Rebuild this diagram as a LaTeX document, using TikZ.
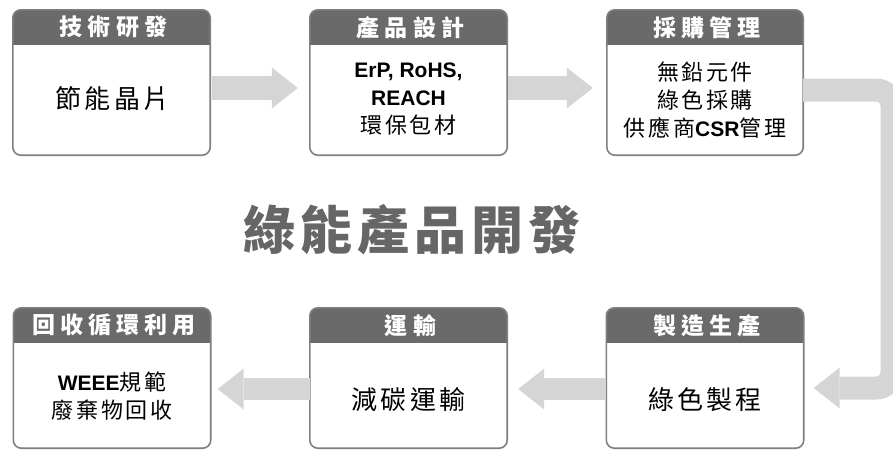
\documentclass[tikz,border=0pt]{standalone}
\usepackage{fontspec}
\setmainfont{Liberation Sans}
\newfontfamily\cjk{Noto Sans CJK TC}
\newfontfamily\cjkhead[LetterSpace=22]{Noto Sans CJK TC}
\newfontfamily\cjkbig[LetterSpace=12]{Noto Sans CJK TC}
\newfontfamily\cjknote[LetterSpace=12]{Noto Sans CJK TC}
\newfontfamily\cjktheme[LetterSpace=10]{Noto Sans CJK TC}
\usetikzlibrary{arrows.meta,positioning}
\definecolor{hdrgray}{HTML}{6A6A6A}
\definecolor{framegray}{HTML}{7F7F7F}
\definecolor{arrowgray}{HTML}{D5D5D5}
\definecolor{themegray}{HTML}{666666}
\newcommand{\lat}[1]{{\normalfont\bfseries\fontsize{21}{28}\selectfont #1}}
% grey head band and frame of one card
\newcommand{\cardframe}[1]{%
  \begin{scope}
    \clip[rounded corners=8pt] (#1.north west) rectangle (#1.south east);
    \fill[hdrgray] (#1.north west) rectangle ([yshift=-35pt]#1.north east);
  \end{scope}
  \draw[framegray, line width=1.6pt, rounded corners=8pt] (#1.north west) rectangle (#1.south east);}
\tikzset{
  card/.style={rectangle, minimum width=197pt, minimum height=145pt, inner sep=0pt, fill=white},
  cardhead/.style={text=white, inner sep=0pt, font=\cjkhead\bfseries\fontsize{23}{25}\selectfont},
  cardbig/.style={inner sep=0pt, font=\cjkbig\fontsize{26}{28}\selectfont},
  cardtext/.style={align=center, inner sep=0pt, font=\cjknote\fontsize{22}{28}\selectfont},
  flow/.style={arrowgray, line width=24pt, -{Triangle[length=26pt,width=41pt,line width=0pt]}},
}

\begin{document}
\begin{tikzpicture}[x=1pt,y=-1pt]
  \useasboundingbox (0,0) rectangle (893,450);

  % top row
  \node[card] (rd) at (111.5,82.5) {};
  \node[card] (design) at (408.5,82.5) {};
  \node[card, minimum width=196pt] (purchase) at (705,82.5) {};
  % bottom row
  \node[card, minimum height=140pt] (make) at (705,378) {};
  \node[card, minimum height=140pt] (ship) at (408.5,378) {};
  \node[card, minimum height=140pt] (recycle) at (112,378) {};

  \cardframe{rd}
  \cardframe{design}
  \cardframe{purchase}
  \cardframe{make}
  \cardframe{ship}
  \cardframe{recycle}

  \node[cardhead] (rd-h) at ([xshift=2pt,yshift=-17.5pt]rd.north) {技術研發};
  \node[cardhead] (design-h) at ([xshift=2pt,yshift=-17.5pt]design.north) {產品設計};
  \node[cardhead] (purchase-h) at ([xshift=2pt,yshift=-17.5pt]purchase.north) {採購管理};
  \node[cardhead] (make-h) at ([xshift=2pt,yshift=-17.5pt]make.north) {製造生產};
  \node[cardhead] (ship-h) at ([xshift=2pt,yshift=-17.5pt]ship.north) {運輸};
  \node[cardhead] (recycle-h) at ([xshift=2pt,yshift=-17.5pt]recycle.north) {回收循環利用};

  \node[cardbig] (rd-t) at ([xshift=1pt,yshift=-16pt]rd.center) {節能晶片};
  \node[cardtext] (design-t) at ([yshift=-17pt]design.center) {\lat{ErP, RoHS,}\\ \lat{REACH}\\ 環保包材};
  \node[cardtext] (purchase-t) at ([yshift=-17.5pt]purchase.center) {無鉛元件\\ 綠色採購\\ 供應商\lat{CSR}管理};
  \node[cardbig] (make-t) at ([yshift=-22pt]make.center) {綠色製程};
  \node[cardbig] (ship-t) at ([yshift=-22pt]ship.center) {減碳運輸};
  \node[cardtext] (recycle-t) at ([yshift=-18.5pt]recycle.center) {\lat{WEEE}規範\\ 廢棄物回收};

  \node[text=themegray, font=\cjktheme\bfseries\fontsize{52}{56}\selectfont] (theme) at (412,230) {綠能產品開發};

  % flow between the cards
  \coordinate (bendtop) at (892,90);
  \coordinate (bendbot) at (892,388);
  \draw[flow] ([xshift=2pt,yshift=-5.5pt]rd.east) -- ([xshift=-12pt,yshift=-5.5pt]design.west);
  \draw[flow] ([xshift=1pt,yshift=-5.5pt]design.east) -- ([xshift=-14pt,yshift=-5.5pt]purchase.west);
  \draw[flow, line width=23pt, rounded corners=16pt] ([yshift=-7.5pt]purchase.east) -- (bendtop) -- (bendbot) -- ([xshift=10pt,yshift=-10pt]make.east);
  \draw[flow, line width=22pt] ([yshift=-11pt]make.west) -- ([xshift=11pt,yshift=-11pt]ship.east);
  \draw[flow, line width=22pt] ([yshift=-11pt]ship.west) -- ([xshift=7pt,yshift=-11pt]recycle.east);
\end{tikzpicture}
\end{document}
